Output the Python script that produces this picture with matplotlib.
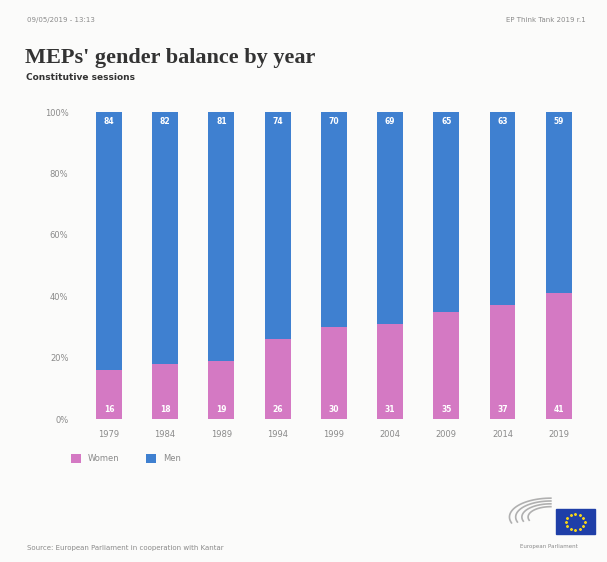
import matplotlib
matplotlib.use("Agg")
import matplotlib.pyplot as plt
from matplotlib.patches import Rectangle
import numpy as np

years = ["1979", "1984", "1989", "1994", "1999", "2004", "2009", "2014", "2019"]
women = [16, 18, 19, 26, 30, 31, 35, 37, 41]
men = [84, 82, 81, 74, 70, 69, 65, 63, 59]
yticks = [0, 20, 40, 60, 80, 100]

PINK = "#d479c3"
BLUE = "#3f80d0"
GREY = "#8a8a8a"

fig = plt.figure(figsize=(6.07, 5.62), dpi=100)
fig.patch.set_facecolor("#fbfbfa")

ax = fig.add_axes([0.147, 0.2544, 0.806, 0.546])
ax.set_facecolor("#fbfbfa")
x = np.arange(len(years))
ax.bar(x, women, width=0.46, color=PINK, label="Women")
ax.bar(x, men, width=0.46, bottom=women, color=BLUE, label="Men")

for xi, w, m in zip(x, women, men):
    ax.text(xi, 3, str(w), ha="center", va="center", color="white",
            fontsize=5.5, fontweight="bold")
    ax.text(xi, 97, str(m), ha="center", va="center", color="white",
            fontsize=5.5, fontweight="bold")

ax.set_xlim(-0.35, len(years) - 0.65)
ax.set_ylim(0, 100)
ax.set_xticks(x)
ax.set_xticklabels(years, fontsize=6, color=GREY)
ax.set_yticks(yticks)
ax.set_yticklabels([f"{v}%" for v in yticks], fontsize=6, color=GREY)
ax.tick_params(length=0, pad=8)
ax.tick_params(axis="y", pad=15)
for s in ax.spines.values():
    s.set_visible(False)

# titles
fig.text(0.041, 0.897, "MEPs' gender balance by year", family="Liberation Serif",
         fontsize=16, fontweight="bold", color="#333333", va="center")
fig.text(0.043, 0.862, "Constitutive sessions", fontsize=6.5,
         fontweight="bold", color="#333333", va="center")
fig.text(0.045, 0.965, "09/05/2019 - 13:13", fontsize=5, color=GREY, va="center")
fig.text(0.965, 0.965, "EP Think Tank 2019 r.1", fontsize=5, color=GREY,
         va="center", ha="right")

# legend
leg = fig.legend(loc="upper left", bbox_to_anchor=(0.105, 0.205), ncol=2,
                 frameon=False, fontsize=6, handlelength=1.2, handleheight=1.2,
                 columnspacing=3.2, handletextpad=0.8, labelcolor=GREY)

# source
fig.text(0.045, 0.025, "Source: European Parliament in cooperation with Kantar",
         fontsize=5, color=GREY, va="center")

# logo
lax = fig.add_axes([0.83, 0.045, 0.155, 0.07])
lax.set_xlim(0, 10)
lax.set_ylim(0, 5)
lax.axis("off")
for r in [2.2, 2.8, 3.4, 4.0]:
    t = np.linspace(np.pi * 0.5, np.pi * 1.1, 30)
    lax.plot(5 + r * np.cos(t) * 1.1, 2.5 + r * np.sin(t) * 0.6,
             color="#b0b0b0", lw=1.2)
lax.add_patch(Rectangle((5.5, 0.3), 4.2, 3.2, color="#1f3fa8"))
ang = np.linspace(0, 2 * np.pi, 12, endpoint=False)
lax.scatter(7.6 + 1.0 * np.cos(ang), 1.9 + 1.0 * np.sin(ang), s=1.5,
            color="#f2d31b", marker="*")
fig.text(0.905, 0.028, "European Parliament", fontsize=4, color=GREY,
         ha="center", va="center")

fig.savefig("out.png", dpi=100, facecolor=fig.get_facecolor())
